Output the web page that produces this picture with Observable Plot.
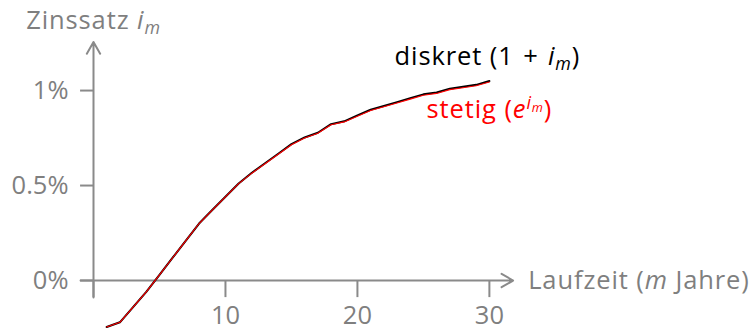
<!DOCTYPE html>
<html>
<head>
<meta charset="utf-8">
<script src="https://cdn.jsdelivr.net/npm/d3@7"></script>
<script src="https://cdn.jsdelivr.net/npm/@observablehq/plot@0.6"></script>
<style>
  html, body { margin: 0; padding: 0; background: #fff; }
  svg { display: block; }
</style>
</head>
<body>
<div id="chart"></div>
<script>
// Laufzeit m (Jahre)
const jahre = [1,2,3,4,5,6,7,8,9,10,11,12,13,14,15,16,17,18,19,20,21,22,23,24,25,26,27,28,29,30];
// stetiger Zinssatz (in %)
const stetig = [-0.245,-0.22,-0.14,-0.06,0.03,0.12,0.21,0.30,0.37,0.44,0.51,0.565,0.615,0.665,0.715,0.75,0.775,0.82,0.835,0.865,0.895,0.915,0.935,0.955,0.975,0.985,1.005,1.015,1.025,1.045];
// diskreter Zinssatz (in %)
const diskret = [-0.245,-0.22,-0.14,-0.06,0.03,0.12,0.21,0.30,0.371,0.441,0.511,0.567,0.617,0.667,0.718,0.753,0.778,0.823,0.838,0.869,0.899,0.919,0.939,0.960,0.980,0.990,1.010,1.020,1.030,1.050];
// Achsen
const xTicks = [0, 10, 20, 30];
const xTickLabels = ["10", "20", "30"];
const xLabelTicks = [10, 20, 30];
const yTicks = [0, 0.5, 1];
const yTickLabels = ["0%", "0.5%", "1%"];

const gray = "#8a8a8a";
const textGray = "#7f7f7f";
const font = "Open Sans";
const fs = 25.5;
const ls = "0.9px";

const dataD = jahre.map((m, i) => ({m, v: diskret[i]}));
const dataS = jahre.map((m, i) => ({m, v: stetig[i]}));

const plot = Plot.plot({
  width: 754,
  height: 332,
  marginLeft: 93,
  marginRight: 244,
  marginTop: 42,
  marginBottom: 4.5,
  x: {domain: [0, 31.6], axis: null},
  y: {domain: [-0.25, 1.253], axis: null},
  style: {fontFamily: font, fontSize: fs + "px", background: "white", overflow: "visible"},
  marks: [
    // Achsen mit Pfeilen
    Plot.arrow([0], {x1: -0.98, y1: 0, x2: 31.8, y2: 0, stroke: gray, strokeWidth: 2, headLength: 10, bend: 0}),
    Plot.arrow([0], {x1: 0, y1: -0.09, x2: 0, y2: 1.255, stroke: gray, strokeWidth: 2, headLength: 10, bend: 0}),
    Plot.ruleX(xTicks, {x: d => d, y1: 0, y2: -0.09, stroke: gray, strokeWidth: 2}),
    Plot.ruleY(yTicks, {y: d => d, x1: -0.98, x2: 0, stroke: gray, strokeWidth: 2}),
    Plot.text(yTicks, {x: 0, y: d => d, text: (d, i) => yTickLabels[i], textAnchor: "end", dx: -25, fill: textGray, fontSize: fs}),
    Plot.text(xLabelTicks, {x: d => d, y: 0, text: (d, i) => xTickLabels[i], dy: 35, fill: textGray, fontSize: fs}),
    // Linien
    Plot.line(dataD, {x: "m", y: "v", stroke: "black", strokeWidth: 2}),
    Plot.line(dataS, {x: "m", y: "v", stroke: "red", strokeWidth: 1.1}),
    // Beschriftungen
    Plot.text(["Laufzeit (m Jahre)"], {x: 31.8, y: 0, dx: 15, text: d => d, textAnchor: "start", fill: textGray, fontSize: fs}),
    Plot.text(["Zinssatz im"], {x: 0, y: 1.253, dy: -22, text: d => d, textAnchor: "middle", fill: textGray, fontSize: fs}),
    Plot.text(["diskret (1 + im)"], {x: 29.85, y: 1.179, text: d => d, textAnchor: "middle", fill: "black", fontSize: fs}),
    Plot.text(["stetig (eim)"], {x: 30, y: 0.9, text: d => d, textAnchor: "middle", fill: "red", fontSize: fs})
  ]
});

document.getElementById("chart").appendChild(plot);

// Mathematische Teile (kursiv, tief-/hochgestellt) als tspans
const rich = {
  "Laufzeit (m Jahre)": [["Laufzeit ("], ["m", "it"], [" Jahre)"]],
  "Zinssatz im": [["Zinssatz "], ["i", "it"], ["m", "sub"], ["", "reset"]],
  "diskret (1 + im)": [["diskret (1\u2004+\u2004"], ["i", "it"], ["m", "sub"], [")", "reset"]],
  "stetig (eim)": [["stetig ("], ["e", "it"], ["i", "sup"], ["m", "supsub"], [")", "resetsup"]]
};
d3.select(plot).selectAll("text").each(function() {
  const t = d3.select(this);
  const key = this.textContent;
  if (!rich[key]) return;
  t.text(null).attr("letter-spacing", ls);
  for (const [s, kind] of rich[key]) {
    const sp = t.append("tspan").text(s);
    if (kind === "it") sp.attr("font-style", "italic");
    if (kind === "sub") sp.attr("font-style", "italic").attr("font-size", fs * 0.7).attr("dy", 5);
    if (kind === "reset") sp.attr("dy", -5);
    if (kind === "sup") sp.attr("font-style", "italic").attr("font-size", fs * 0.7).attr("dy", -9);
    if (kind === "supsub") sp.attr("font-style", "italic").attr("font-size", fs * 0.5).attr("dy", 3);
    if (kind === "resetsup") sp.attr("dy", 6);
  }
});
</script>
</body>
</html>
